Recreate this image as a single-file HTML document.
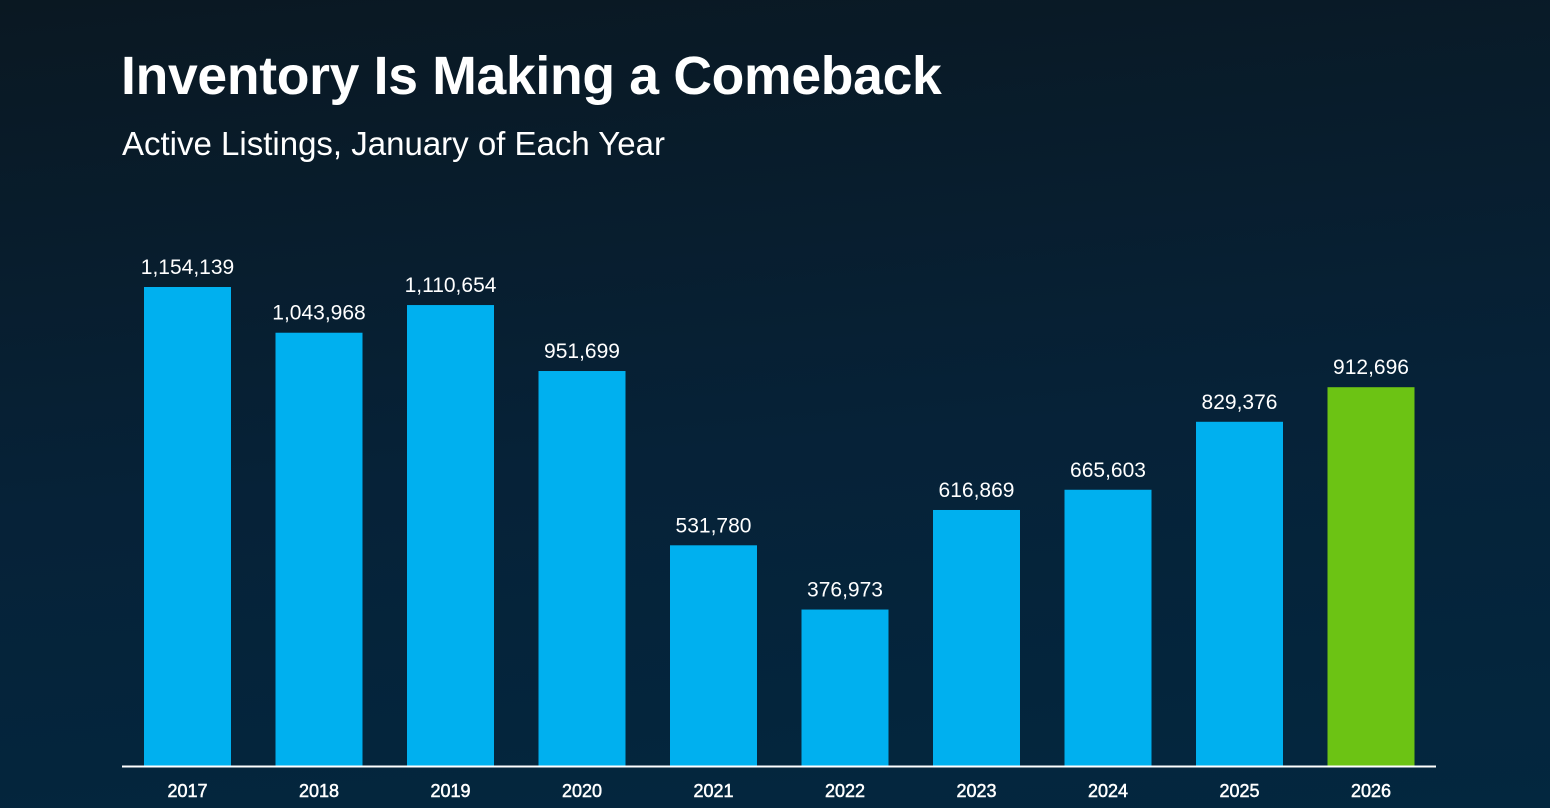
<!DOCTYPE html>
<html><head><meta charset="utf-8"><style>
html,body{margin:0;padding:0}
body{width:1550px;height:808px;overflow:hidden;background:linear-gradient(175deg,#0a1822 0%,#062238 55%,#03273f 100%);font-family:"Liberation Sans",Arial,sans-serif;color:#fff;position:relative}
#title{position:absolute;left:121px;top:48px;font-size:53.5px;font-weight:bold;margin:0;letter-spacing:-0.3px;line-height:1.1}
#subtitle{position:absolute;left:122px;top:125px;font-size:33px;margin:0;line-height:1.15}
svg{position:absolute;left:0;top:0}
</style></head><body>
<h1 id="title">Inventory Is Making a Comeback</h1>
<p id="subtitle">Active Listings, January of Each Year</p>
<svg id="chart" width="1550" height="808"></svg>
<script>
const categories=["2017","2018","2019","2020","2021","2022","2023","2024","2025","2026"];
const values=[1154139,1043968,1110654,951699,531780,376973,616869,665603,829376,912696];
const valueLabels=["1,154,139","1,043,968","1,110,654","951,699","531,780","376,973","616,869","665,603","829,376","912,696"];
const highlight=["2026"];
const NS="http://www.w3.org/2000/svg";
const svg=document.getElementById('chart');
const baseY=766, topPx=479, maxV=1154139;
const yScale=v=>baseY-v/maxV*topPx;
const x0=187.5, step=131.5, bw=87;
const xScale=i=>x0+i*step;
function mk(tag,attrs){const e=document.createElementNS(NS,tag);for(const k in attrs)e.setAttribute(k,attrs[k]);svg.appendChild(e);return e;}
categories.forEach((c,i)=>{
  const cx=xScale(i), y=yScale(values[i]);
  const r=mk('rect',{x:cx-bw/2,y:y,width:bw,height:baseY-y,fill:highlight.includes(c)?'#6cc314':'#00b0ef'});
  
  
  const t=mk('text',{x:cx,y:y-13,'text-anchor':'middle','font-size':'21',fill:'#fff','font-family':'Liberation Sans, Arial, sans-serif'});
  t.textContent=valueLabels[i];
  
  
  const l=mk('text',{x:cx,y:797,'text-anchor':'middle','font-size':'18',fill:'#fff',stroke:'#fff','stroke-width':'0.5','font-family':'Liberation Sans, Arial, sans-serif'});
  l.textContent=c;
  
  
});
const ax=mk('line',{x1:122,x2:1436,y1:baseY+0.5,y2:baseY+0.5,stroke:'#fff','stroke-width':2});


</script>
</body></html>
